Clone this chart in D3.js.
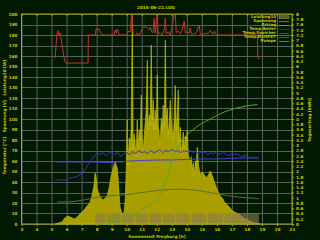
<!DOCTYPE html>
<html>
<head>
<meta charset="utf-8">
<script src="https://cdn.jsdelivr.net/npm/d3@7"></script>
<style>
  html, body { margin: 0; padding: 0; background: #011801; }
  svg { display: block; }
  text { font-family: 'DejaVu Sans', sans-serif; font-weight: bold; fill: #c8c800; }
</style>
</head>
<body>
<div id="chart"></div>
<script>
// x axis ticks (hours) and y ticks
const hourTicks = d3.range(3, 22);
const leftTicks = d3.range(0, 201, 10);
const rightTicks = d3.range(0, 41).map(i => i / 5);

// Leistung10 [W]
const leistungH = [5.23,5.70,5.83,5.97,6.10,6.23,6.37,6.50,6.63,6.77,6.90,7.03,7.17,7.30,7.43,7.57,7.70,7.83,7.90,7.97,
  8.03,8.17,8.30,8.43,8.57,8.70,8.83,8.97,9.10,9.23,9.37,9.43,9.50,9.57,9.70,9.83,9.90,9.97,10.03,10.07,10.10,
  10.17,10.23,10.30,10.37,10.43,10.50,10.57,10.63,10.70,10.77,10.83,10.90,10.97,11.03,11.10,11.17,11.23,11.30,11.37,11.43,11.50,11.57,11.63,11.70,11.77,11.83,11.90,11.97,12.03,
  12.10,12.17,12.23,12.30,12.37,12.43,12.50,12.57,12.63,12.70,12.77,12.83,12.90,12.97,13.03,13.10,13.17,13.23,13.30,13.37,13.43,13.50,13.57,13.63,13.70,13.77,13.83,13.90,13.97,14.03,14.10,
  14.23,14.30,14.37,14.43,14.50,14.57,14.63,14.70,14.77,14.90,15.03,15.17,15.30,15.43,15.57,15.70,15.83,15.97,16.10,16.23,16.37,16.50,16.63,
  16.77,16.90,17.03,17.17,17.30,17.43,17.57,17.77,17.97,18.17,18.37,18.57,18.77,18.90];
const leistungW = [0,1.9,4.8,6.7,7.6,6.7,5.7,4.8,5.7,7.6,9.5,11.4,13.3,16.2,18.1,21,27.6,37.1,48.6,43.8,
  34.3,27.6,24.8,22.9,24.8,26.7,34.3,45.7,53.3,59,53.3,43.8,27.6,15.2,9.5,11.4,22.9,51.4,99,56,61,
  82,70.5,92,200,70.5,86,75.2,64,99,70.5,90,80,122.9,80,68,84.8,96,108.6,156,89.5,104,94.3,170.5,99,118,89.5,108.6,89.5,142,
  94.3,84,77,101,89.5,113,92,175,99,110,84.8,96,118,99,88,80,104,132,89.5,106,127.6,75.2,92,65.7,78,87.6,70.5,84,80,89.5,65.7,
  59,64,51.4,58,46.7,60,56.2,73.3,56.2,46.7,49.5,46.7,43.8,46.7,50.5,45.7,40,34.3,30.5,26.7,24.8,21,19,
  17.1,15.2,12.4,11.4,10.5,9.5,8.6,5.7,4.8,2.9,1.9,1,0.5,0];

// Spannung [V]
const spannungH = [5.23,5.30,5.37,5.43,5.50,5.57,5.63,5.70,5.77,5.83,5.90,5.97,7.43,7.45,7.90,7.97,8.17,8.23,8.37,9.17,
  9.23,9.30,9.37,9.43,9.50,10.03,10.10,10.23,10.30,10.37,10.43,10.57,10.70,10.83,10.97,11.10,11.30,11.50,11.57,11.70,
  11.77,11.83,11.90,11.97,12.03,12.10,12.23,12.37,12.50,12.57,12.63,12.77,12.90,13.03,13.17,13.23,13.30,13.43,13.57,13.70,
  13.83,13.90,14.03,14.17,14.23,14.30,14.50,14.63,14.77,14.83,14.90,15.10,15.23,15.37,15.50,15.57,15.63,15.77,15.83,15.97,
  18.70,18.73,18.83];
const spannungV = [158,170.5,182,184,180,182,177,170.5,164,159,154.3,153.3,153.3,180,180,185.7,185.7,183,180,180,
  184.8,182,185.7,183.8,180,180,183.8,183,194.3,200,181,179,182,180,183.8,187.6,187.6,184.8,187.6,182,
  183.8,196,182,192.4,200,181,182,180,184.8,196,181,183,180,188.6,200,200,182,183.8,181,184.8,
  193.3,182,183,182,186.7,181,181,182,187.6,188.6,181,180,182,181,183,184.8,182,181,183.8,180,
  180,158,157];

// Ertrag [kWh] (right axis)
const ertragH = [8.23,8.90,9.57,10.23,10.90,11.57,12.23,12.57,12.90,13.23,13.57,14.23,14.90,15.57,16.23,16.90,17.57,18.23,18.70];
const ertragKWh = [0,0.05,0.15,0.3,0.5,0.75,1.1,1.6,2.2,2.75,3.1,3.5,3.8,4.0,4.2,4.35,4.45,4.52,4.55];

// Temp.Boiler [°C]
const boilerH = [5.37,6.0,7.0,8.0,8.5,9.0,9.5,10.23,11.0,12.23,13.0,14.0,14.9,16.0,17.0,18.0,18.77];
const boilerC = [59,59,59,59,58.5,58.5,59,60,60.5,61,61,61.5,62,62,62.5,63,63];

// Temp.Speicher [°C]
const speicherH = [5.23,5.97,6.23,6.57,6.90,7.10,7.30,7.50,7.70,7.90,8.03,8.2,8.4,8.6,8.8,9.0,9.2,9.4,9.6,9.8,
  10.0,10.2,10.4,10.6,10.8,11.0,11.2,11.4,11.6,11.8,12.0,12.2,12.4,12.6,12.8,13.0,13.2,13.4,13.6,13.8,
  14.0,14.2,14.4,14.6,14.8,15.0,15.2,15.4,15.6,15.8,16.0,16.2,16.4,16.6,16.8,17.0,17.2,17.4,17.6,17.9,
  18.0,18.4,18.77];
const speicherC = [42,42,43.8,44.8,46.7,49.5,53.3,58,62,65.7,67.6,66,68,65,67,69,66,68,64,67,
  68,66,69,67,70,68,69,67,70,68,69,71,68,70,69,71,69,70,68,70,
  69,70,68,69,67,69,68,66,68,67,69,66,68,67,65,67,66,67,64,66,
  63,63,63];

// Temp.MOSFET [°C]
const mosfetH = [5.37,6.0,6.5,7.0,7.5,8.0,8.5,9.0,9.5,10.0,11.0,12.0,13.0,14.0,15.0,15.5,16.0,16.5,17.0,17.5,18.0,18.5,18.77];
const mosfetC = [21,21,21.5,22.5,24,25.5,26.5,27,27.5,28,30,32,33,33,31.5,30,29,27.5,26.5,25.5,25,24.5,24];

// Pumpe (on = 10)
const pumpeH = [7.90,8.60,8.70,9.60,9.70,10.50,10.60,11.40,11.50,12.30,12.40,13.20,13.30,14.20,14.30,15.30,15.40,16.40,16.50,18.80];
const pumpeOn = [10,0,10,0,10,0,10,0,10,0,10,0,10,0,10,0,10,0,10,10];

const legendNames = ['Leistung10', 'Spannung', 'Ertrag', 'Temp.Boiler', 'Temp.Speicher', 'Temp.MOSFET', 'Pumpe'];
const legendColors = ['#a49c00', '#c0502a', '#58a820', '#2a2a98', '#4038d0', '#4e5a22', '#707070'];

const W = 320, H = 240;
const margin = { top: 14, right: 28, bottom: 16, left: 21.5 };

const svg = d3.select('#chart').append('svg')
  .attr('width', W).attr('height', H);

svg.append('rect').attr('width', W).attr('height', H).attr('fill', '#011801');

const x = d3.scaleLinear().domain([3, 21]).range([margin.left, W - margin.right]);
const yL = d3.scaleLinear().domain([0, 200]).range([H - margin.bottom, margin.top]);
const yR = d3.scaleLinear().domain([0, 8]).range([H - margin.bottom, margin.top]);

const zip = (a, b) => a.map((d, i) => [d, b[i]]);

// grid
const grid = svg.append('g');
grid.selectAll('.vg').data(hourTicks).enter().append('line')
  .attr('x1', d => x(d) + 0.5).attr('x2', d => x(d) + 0.5)
  .attr('y1', yL(0)).attr('y2', yL(200))
  .attr('stroke', '#5c605c').attr('stroke-width', 1);
grid.selectAll('.hg').data(leftTicks).enter().append('line')
  .attr('x1', x(3)).attr('x2', x(21))
  .attr('y1', d => Math.round(yL(d)) + 0.5).attr('y2', d => Math.round(yL(d)) + 0.5)
  .attr('stroke', '#5c605c').attr('stroke-width', 1);

// Leistung area
const areaL = d3.area().x(d => x(d[0])).y0(yL(0)).y1(d => yL(d[1]));
svg.append('path').datum(zip(leistungH, leistungW))
  .attr('d', areaL).attr('fill', '#a89e00')
  .attr('stroke', '#d0c800').attr('stroke-width', 0.6);

// Pumpe band
const areaP = d3.area().x(d => x(d[0])).y0(yL(0)).y1(d => yL(d[1])).curve(d3.curveStepAfter);
svg.append('path').datum(zip(pumpeH, pumpeOn))
  .attr('d', areaP).attr('fill', '#8a7a52').attr('opacity', 0.6);

const lineL = d3.line().x(d => x(d[0])).y(d => yL(d[1]));
const lineR = d3.line().x(d => x(d[0])).y(d => yR(d[1]));

svg.append('path').datum(zip(mosfetH, mosfetC))
  .attr('d', lineL).attr('fill', 'none').attr('stroke', '#5e6e2a').attr('stroke-width', 1);
svg.append('path').datum(zip(boilerH, boilerC))
  .attr('d', lineL).attr('fill', 'none').attr('stroke', '#4a3cd0').attr('stroke-width', 1);
svg.append('path').datum(zip(speicherH, speicherC))
  .attr('d', lineL).attr('fill', 'none').attr('stroke', '#3a30c0').attr('stroke-width', 1);
svg.append('path').datum(zip(ertragH, ertragKWh))
  .attr('d', lineR.curve(d3.curveMonotoneX)).attr('fill', 'none').attr('stroke', '#58a820').attr('stroke-width', 1);
svg.append('path').datum(zip(spannungH, spannungV))
  .attr('d', lineL).attr('fill', 'none').attr('stroke', '#c0382a').attr('stroke-width', 1);

// frame
svg.append('rect')
  .attr('x', x(3)).attr('y', yL(200))
  .attr('width', x(21) - x(3)).attr('height', yL(0) - yL(200))
  .attr('fill', 'none').attr('stroke', '#a8a800').attr('stroke-width', 1);

// axes
const fmt = d => String(+d.toFixed(1));
const leftAxis = svg.append('g').attr('transform', `translate(${x(3)},0)`)
  .call(d3.axisLeft(yL).tickValues(leftTicks).tickSize(0).tickPadding(4).tickFormat(fmt));
const rightAxis = svg.append('g').attr('transform', `translate(${x(21)},0)`)
  .call(d3.axisRight(yR).tickValues(rightTicks).tickSize(2).tickPadding(2).tickFormat(fmt));
const bottomAxis = svg.append('g').attr('transform', `translate(0,${yL(0)})`)
  .call(d3.axisBottom(x).tickValues(hourTicks).tickSize(2).tickPadding(2).tickFormat(fmt));
const topAxis = svg.append('g').attr('transform', `translate(0,${yL(200)})`)
  .call(d3.axisBottom(x).tickValues(hourTicks).tickSize(2).tickFormat(''));

[leftAxis, rightAxis, bottomAxis, topAxis].forEach(g => {
  g.select('.domain').remove();
  g.selectAll('line').attr('stroke', '#a8a800');
  g.selectAll('text').attr('font-size', 4.2).style('fill', '#c8c800');
});

// titles
svg.append('text').attr('x', 156).attr('y', 8.5).attr('text-anchor', 'middle')
  .attr('font-size', 4.2).text('2016-06-22.LOG');
svg.append('text').attr('x', 157).attr('y', 237.5).attr('text-anchor', 'middle')
  .attr('font-size', 4.2).text('Sonnenzeit Freyburg [h]');
svg.append('text').attr('transform', 'translate(5.5,117) rotate(-90)').attr('text-anchor', 'middle')
  .attr('font-size', 4.2).style('white-space', 'pre')
  .text('Temperatur [°C]   Spannung [V]   Leistung10 [W]');
svg.append('text').attr('transform', 'translate(310.5,120) rotate(-90)').attr('text-anchor', 'middle')
  .attr('font-size', 4.2).text('Tagesertrag [kWh]');

// legend
const legend = svg.append('g');
legendNames.forEach((name, i) => {
  const ly = 17 + i * 4;
  legend.append('text').attr('x', 276).attr('y', ly + 1.4).attr('text-anchor', 'end')
    .attr('font-size', 4).text(name);
  if (i === 0) {
    legend.append('rect').attr('x', 279).attr('y', ly - 1.2).attr('width', 10).attr('height', 2.6)
      .attr('fill', '#5a5a20').attr('stroke', '#9a9a50').attr('stroke-width', 0.6);
  } else {
    legend.append('line').attr('x1', 279).attr('x2', 289).attr('y1', ly + 0.5).attr('y2', ly + 0.5)
      .attr('stroke', legendColors[i]).attr('stroke-width', 1);
  }
});
</script>
</body>
</html>
